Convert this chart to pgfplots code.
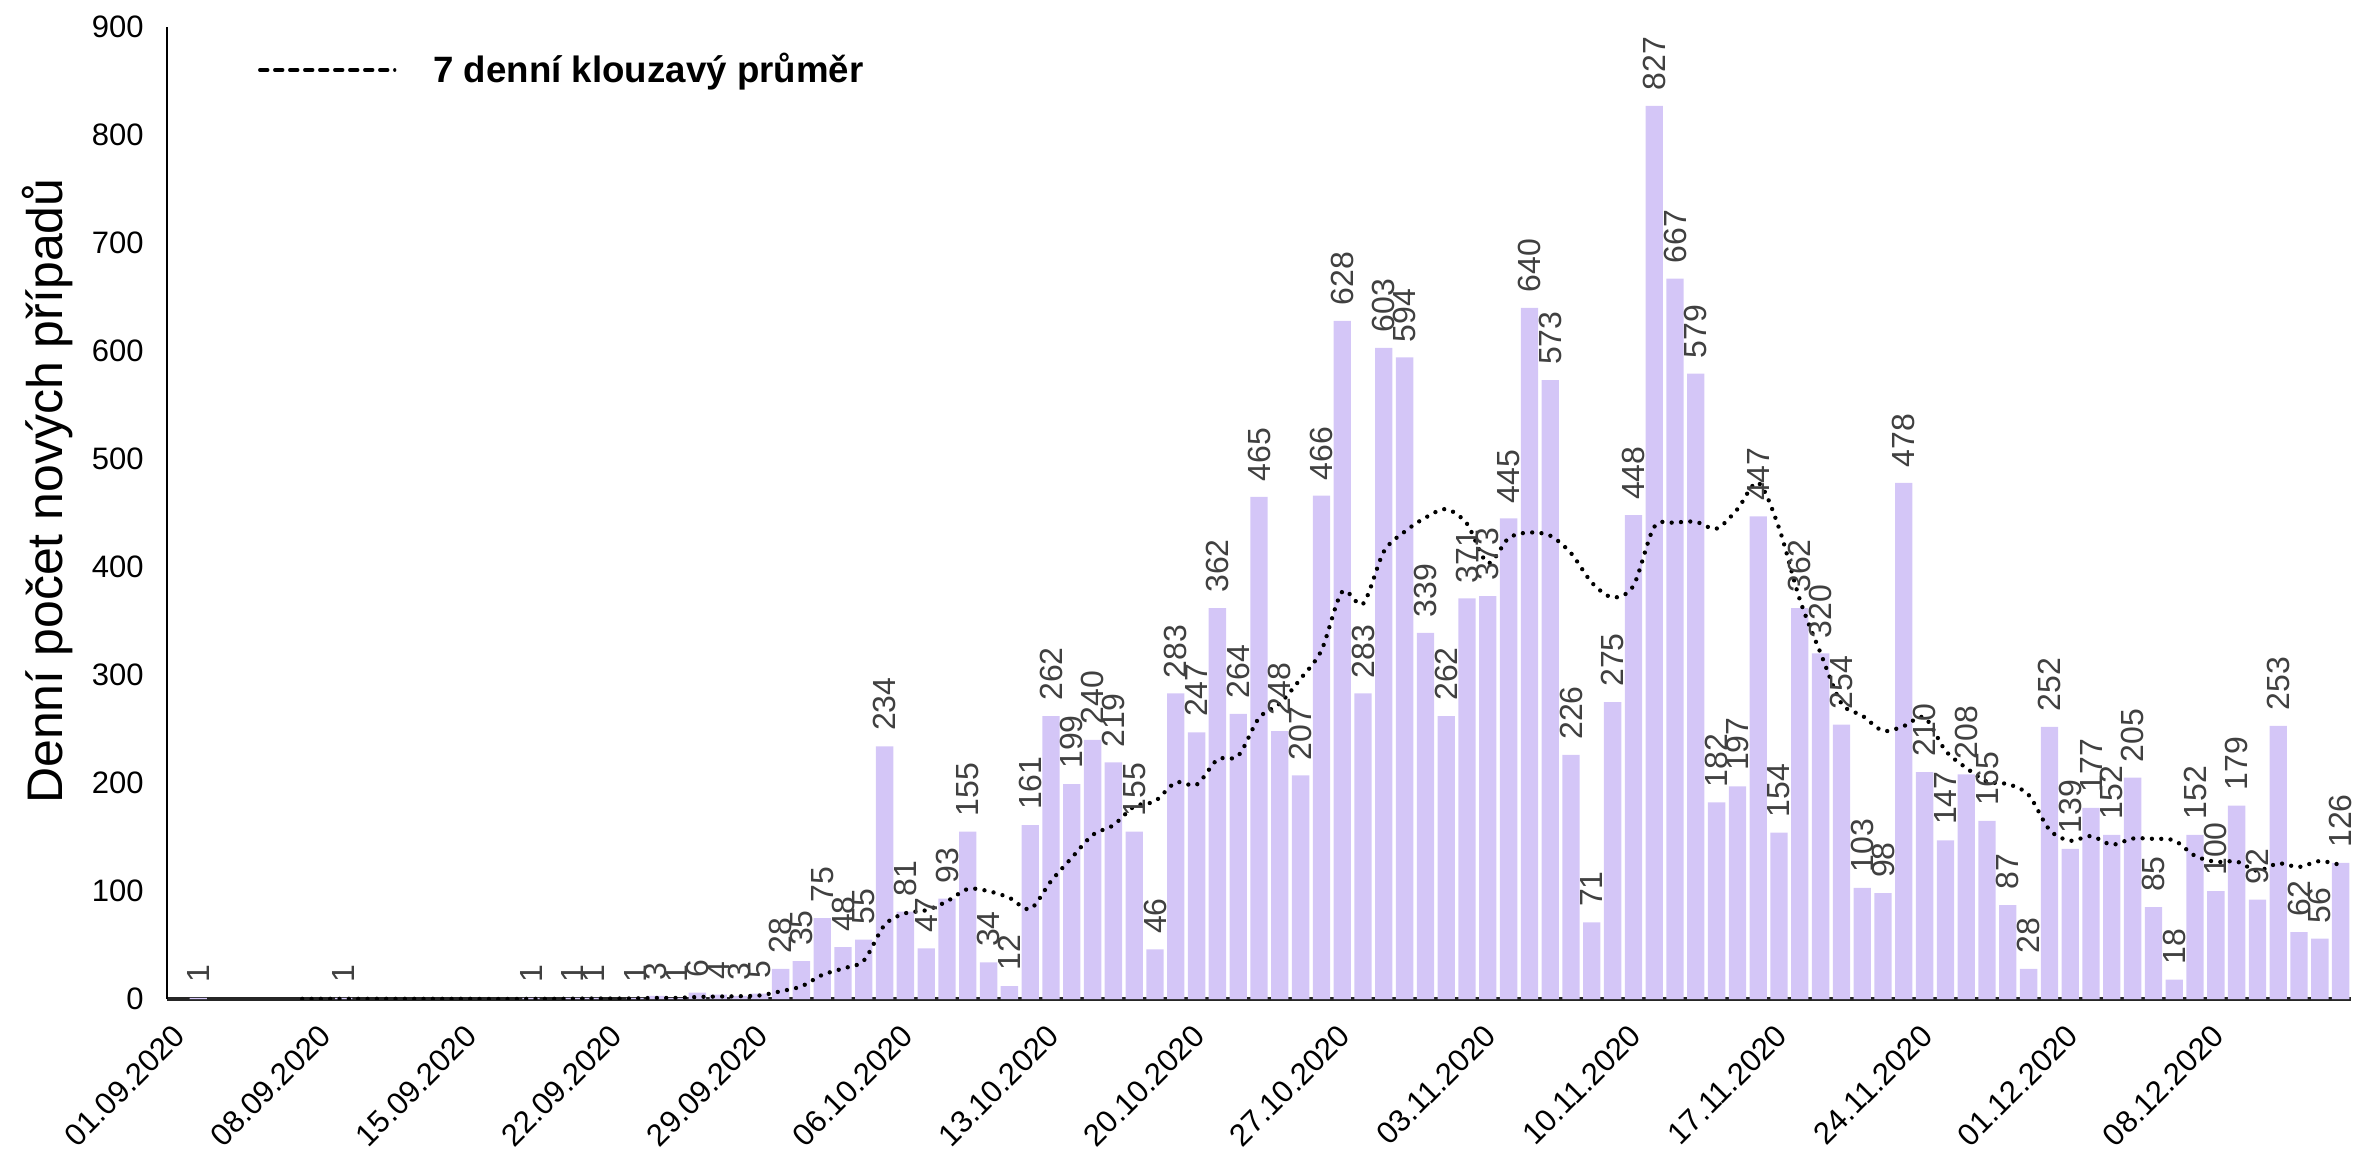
\documentclass[border=0pt]{standalone}
\usepackage{pgfplots}
\pgfplotsset{compat=1.18}
\usepackage{fontspec}
\setmainfont{Liberation Sans}
\definecolor{barfill}{RGB}{212,198,247}
\definecolor{lblgray}{RGB}{64,64,64}

\begin{document}
\begin{tikzpicture}
\useasboundingbox (-50.1pt,-45.9pt) rectangle (655.8pt,299.7pt);
\begin{axis}[
  at={(0,0)}, anchor=south west,
  scale only axis, width=655.2pt, height=291.6pt,
  xmin=-0.5, xmax=104.5, ymin=0, ymax=900,
  axis x line=bottom, axis y line=left,
  x axis line style={-, line width=1.1pt, black!85},
  y axis line style={-, line width=0.6pt},
  major tick length=0pt,
  ytick={0,100,...,900},
  xtick={0,7,...,98},
  xticklabels={01.09.2020,08.09.2020,15.09.2020,22.09.2020,29.09.2020,06.10.2020,13.10.2020,20.10.2020,27.10.2020,03.11.2020,10.11.2020,17.11.2020,24.11.2020,01.12.2020,08.12.2020},
  /pgf/number format/assume math mode=true,
  tick label style={font=\fontsize{9.3}{11}\selectfont},
  xticklabel style={xshift=0.8pt, rotate=45, anchor=east, inner sep=0pt},
  xticklabel shift=9.4pt,
  yticklabel shift=3.5pt,
  ylabel={Denní počet nových případů},
  ylabel style={at={(axis description cs:-0.0545,0.5226)}, anchor=center, font=\fontsize{15}{18}\selectfont},
  legend style={draw=none, fill=none, inner sep=0pt, outer sep=0pt,
    at={(axis description cs:0.0417,0.9557)}, anchor=west,
    font=\bfseries\fontsize{11}{13}\selectfont,
    nodes={inner sep=0pt},
    /tikz/every odd column/.append style={column sep=11.1pt}},
  legend image code/.code={\draw[line width=1pt, dash pattern=on 2.4pt off 2.1pt] (0pt,0pt) -- (40.5pt,0pt);},
]
\addplot[ybar, bar width=5.2pt, fill=barfill, draw=none, forget plot,
  nodes near coords,
  every node near coord/.append style={rotate=90, anchor=west, inner xsep=4.4pt, inner ysep=0pt,
    font=\fontsize{9.6}{11}\selectfont, text=lblgray}]
coordinates {
(1,1) (8,1) (17,1) (19,1) (20,1) (22,1) (23,3) (24,1) (25,6) (26,4) (27,3) (28,5)
(29,28) (30,35) (31,75) (32,48) (33,55) (34,234) (35,81) (36,47) (37,93) (38,155)
(39,34) (40,12) (41,161) (42,262) (43,199) (44,240) (45,219) (46,155) (47,46) (48,283)
(49,247) (50,362) (51,264) (52,465) (53,248) (54,207) (55,466) (56,628) (57,283) (58,603)
(59,594) (60,339) (61,262) (62,371) (63,373) (64,445) (65,640) (66,573) (67,226) (68,71)
(69,275) (70,448) (71,827) (72,667) (73,579) (74,182) (75,197) (76,447) (77,154) (78,362)
(79,320) (80,254) (81,103) (82,98) (83,478) (84,210) (85,147) (86,208) (87,165) (88,87)
(89,28) (90,252) (91,139) (92,177) (93,152) (94,205) (95,85) (96,18) (97,152) (98,100)
(99,179) (100,92) (101,253) (102,62) (103,56) (104,126)
};
\addplot[black, line width=1.3pt, line cap=round, dash pattern=on 0pt off 2.8pt, smooth, tension=0.5]
coordinates {
(6,0.14) (7,0.14) (8,0.14) (9,0.14) (10,0.14) (11,0.14) (12,0.14) (13,0.14) (14,0.14)
(15,0) (16,0) (17,0.14) (18,0.14) (19,0.29) (20,0.43) (21,0.43) (22,0.57) (23,1.0)
(24,1.0) (25,1.86) (26,2.29) (27,2.57) (28,3.29) (29,7.14) (30,11.71) (31,22.29)
(32,28.29) (33,35.57) (34,68.57) (35,79.43) (36,82.14) (37,90.43) (38,101.86) (39,99.86)
(40,93.71) (41,83.29) (42,109.14) (43,130.86) (44,151.86) (45,161) (46,178.29) (47,183.14)
(48,200.57) (49,198.43) (50,221.71) (51,225.14) (52,260.29) (53,273.57) (54,296.57)
(55,322.71) (56,377.14) (57,365.86) (58,414.29) (59,432.71) (60,445.71) (61,453.57)
(62,440) (63,403.57) (64,426.71) (65,432) (66,429) (67,412.86) (68,385.57) (69,371.86)
(70,382.57) (71,437.14) (72,441) (73,441.86) (74,435.57) (75,453.57) (76,478.14)
(77,436.14) (78,369.71) (79,320.14) (80,273.71) (81,262.43) (82,248.29) (83,252.71)
(84,260.71) (85,230) (86,214) (87,201.29) (88,199) (89,189) (90,156.71) (91,146.57)
(92,150.86) (93,142.86) (94,148.57) (95,148.29) (96,146.86) (97,132.57) (98,127)
(99,127.29) (100,118.71) (101,125.57) (102,122.29) (103,127.71) (104,124)
};
\addlegendentry{7 denní klouzavý průměr}
\end{axis}
\end{tikzpicture}
\end{document}
